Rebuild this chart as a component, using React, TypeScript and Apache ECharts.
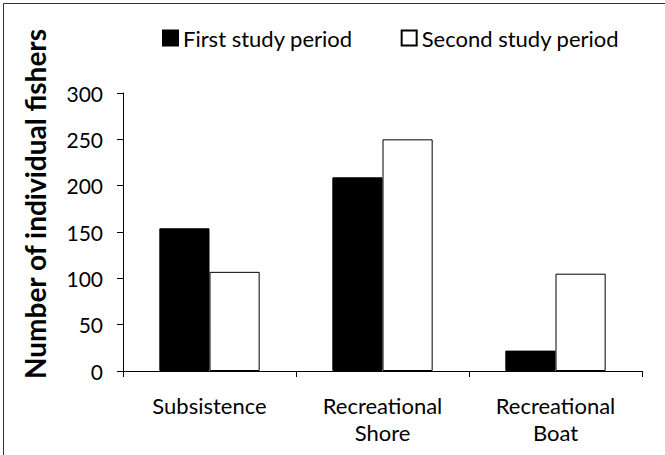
import React, { useEffect, useRef } from "react";
import * as echarts from "echarts";

const categories = ["Subsistence", "Recreational\nShore", "Recreational\nBoat"];
const firstPeriod = [154, 209, 22];
const secondPeriod = [107, 250, 105];
const yTicks = { min: 0, max: 300, interval: 50 };
const seriesNames = ["First study period", "Second study period"];
const yTitle = "Number of individual fishers";

const FONT = "Lato, 'Open Sans', sans-serif";

export default function App() {
  const ref = useRef<HTMLDivElement>(null);
  useEffect(() => {
    if (!ref.current) return;
    const chart = echarts.init(ref.current, undefined, { renderer: "svg" });
    chart.setOption({
      animation: false,
      backgroundColor: "#ffffff",
      textStyle: { fontFamily: FONT, color: "#000" },
      grid: { left: 123, right: 23, top: 93, bottom: 84 },
      legend: {
        top: 22,
        left: 157,
        itemWidth: 15,
        itemHeight: 15,
        itemGap: 48,
        icon: "rect",
        textStyle: { fontFamily: FONT, fontSize: 22, color: "#000" },
        data: seriesNames,
      },
      xAxis: {
        type: "category",
        data: categories,
        axisLine: { lineStyle: { color: "#000", width: 1 } },
        axisTick: { show: true, length: 6, lineStyle: { color: "#000" } },
        axisLabel: {
          color: "#000",
          fontFamily: FONT,
          fontSize: 22,
          margin: 21,
          lineHeight: 27,
        },
      },
      yAxis: {
        type: "value",
        min: yTicks.min,
        max: yTicks.max,
        interval: yTicks.interval,
        axisLine: { show: true, lineStyle: { color: "#000", width: 1 } },
        axisTick: { show: true, length: 6, lineStyle: { color: "#000" } },
        splitLine: { show: false },
        axisLabel: { color: "#000", fontFamily: FONT, fontSize: 21, margin: 20 },
      },
      series: [
        {
          name: seriesNames[0],
          type: "bar",
          data: firstPeriod,
          barWidth: "29%",
          barGap: "0%",
          itemStyle: { color: "#000", borderColor: "#000", borderWidth: 1 },
        },
        {
          name: seriesNames[1],
          type: "bar",
          data: secondPeriod,
          barWidth: "29%",
          barGap: "0%",
          itemStyle: { color: "#fff", borderColor: "#000", borderWidth: 1 },
        },
      ],
      graphic: [
        {
          type: "rect",
          left: 1,
          top: 1,
          shape: { x: 0, y: 0, width: 662, height: 452 },
          style: { fill: "none", stroke: "#333", lineWidth: 1 },
          silent: true,
        },
        {
          type: "text",
          x: 35,
          y: 204,
          rotation: Math.PI / 2,
          style: {
            text: yTitle,
            fontFamily: FONT,
            fontSize: 28,
            fontWeight: "bold",
            fill: "#000",
            align: "center",
            verticalAlign: "middle",
          },
        },
      ],
    });
    return () => chart.dispose();
  }, []);
  return <div ref={ref} style={{ width: 665, height: 455, position: "absolute", left: 0, top: 0 }} />;
}
